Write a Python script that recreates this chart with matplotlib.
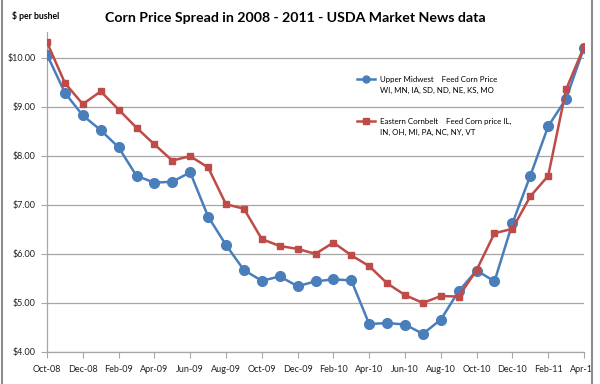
import matplotlib
matplotlib.use("Agg")
import matplotlib.pyplot as plt
from matplotlib.lines import Line2D
from matplotlib.patches import Rectangle
import numpy as np

months = ["Oct-08", "Nov-08", "Dec-08", "Jan-09", "Feb-09", "Mar-09", "Apr-09", "May-09",
          "Jun-09", "Jul-09", "Aug-09", "Sep-09", "Oct-09", "Nov-09", "Dec-09", "Jan-10",
          "Feb-10", "Mar-10", "Apr-10", "May-10", "Jun-10", "Jul-10", "Aug-10", "Sep-10",
          "Oct-10", "Nov-10", "Dec-10", "Jan-11", "Feb-11", "Mar-11", "Apr-11"]

upper_midwest = [10.06, 9.28, 8.82, 8.52, 8.17, 7.59, 7.45, 7.47, 7.66, 6.76, 6.18, 5.67,
                 5.45, 5.54, 5.34, 5.44, 5.48, 5.46, 4.57, 4.59, 4.56, 4.37, 4.66, 5.24,
                 5.66, 5.44, 6.62, 7.59, 8.60, 9.16, 10.20]

eastern_cornbelt = [10.31, 9.48, 9.05, 9.31, 8.94, 8.57, 8.23, 7.90, 7.99, 7.76, 7.01, 6.92,
                    6.30, 6.16, 6.10, 6.00, 6.23, 5.97, 5.75, 5.40, 5.16, 5.00, 5.14, 5.13,
                    5.67, 6.42, 6.51, 7.17, 7.59, 9.35, 10.22]

y_ticks = [4, 5, 6, 7, 8, 9, 10]
y_tick_labels = ["$4.00", "$5.00", "$6.00", "$7.00", "$8.00", "$9.00", "$10.00"]

title = "Corn Price Spread in 2008 - 2011 - USDA Market News data"
y_title = "$ per bushel"
label_um = ["Upper Midwest    Feed Corn Price", "WI, MN, IA, SD, ND, NE, KS, MO"]
label_ec = ["Eastern Cornbelt    Feed Corn price IL,", "IN, OH, MI, PA, NC, NY, VT"]

plt.rcParams['font.family'] = ['Lato', 'DejaVu Sans']

blue = "#4A7EBB"
red = "#BE4B48"
grid_c = "#A6A6A6"

fig = plt.figure(figsize=(6.0, 3.84), dpi=100)
ax = fig.add_axes([47/600, 1-352/384, (584-47)/600, (352-32)/384])

x = np.arange(len(months))
ax.plot(x, upper_midwest, color=blue, lw=1.8, marker='o', ms=7, mfc=blue, mec=blue, zorder=3)
ax.plot(x, eastern_cornbelt, color=red, lw=1.8, marker='s', ms=5, mfc=red, mec=red, zorder=3)

ax.set_xlim(0, len(months) - 1)
ax.set_ylim(4, 10.52)
ax.set_xticks(x[::2])
ax.set_xticklabels(months[::2], fontsize=6.5, color="#222222")
ax.set_yticks(y_ticks)
ax.set_yticklabels(y_tick_labels, fontsize=6.5, color="#222222")
ax.tick_params(axis='both', direction='out', length=4, width=0.8, color=grid_c, pad=4)
ax.tick_params(axis='x', pad=5)

ax.grid(axis='y', color=grid_c, lw=0.9)
ax.set_axisbelow(True)
for s in ['top', 'right']:
    ax.spines[s].set_visible(False)
for s in ['left', 'bottom']:
    ax.spines[s].set_color(grid_c)
    ax.spines[s].set_linewidth(0.9)

# legend: two lines per entry, blank rows between entries
blank = Line2D([], [], color='none')
h_um = Line2D([], [], color=blue, lw=1.8, marker='o', ms=5)
h_ec = Line2D([], [], color=red, lw=1.8, marker='s', ms=4)
handles = [h_um, blank, blank, blank, h_ec, blank]
labels = [label_um[0], label_um[1], " ", " ", label_ec[0], label_ec[1]]
leg = ax.legend(handles, labels, loc='upper left', bbox_to_anchor=(353/600, 1-72/384),
                bbox_transform=fig.transFigure, frameon=False, fontsize=5.7,
                handlelength=2.3, handletextpad=0.6, labelspacing=0.45, borderpad=0)

fig.text(295/600, 1-18/384, title, ha='center', va='center', fontsize=10.2, fontweight='bold')
fig.text(12/600, 1-16/384, y_title, ha='left', va='center', fontsize=6.3, fontweight='bold')

# chart border (right side clipped)
fig.patches.append(Rectangle((592/600, 0), 8/600, 1, transform=fig.transFigure,
                             facecolor='white', edgecolor='none', zorder=10))
fig.lines.append(Line2D([592/600, 592/600], [0, 1], transform=fig.transFigure,
                        color="#8C8C8C", lw=1.5, zorder=11))
fig.lines.append(Line2D([1.5/600, 1.5/600], [0, 1], transform=fig.transFigure,
                        color="#8C8C8C", lw=1.5, zorder=11))

fig.savefig("out.png", dpi=100)
